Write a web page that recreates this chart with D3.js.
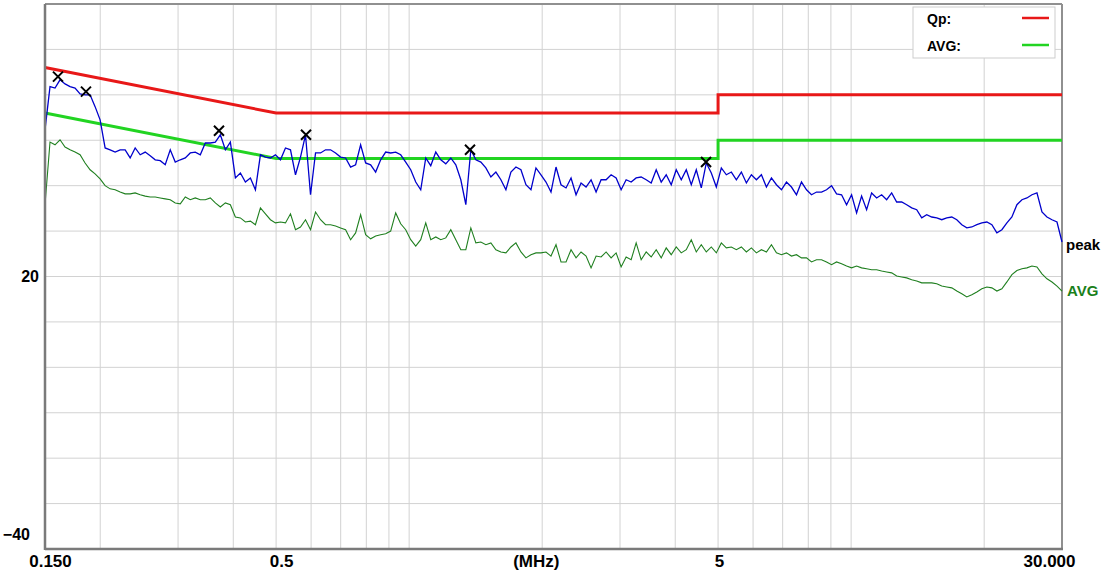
<!DOCTYPE html>
<html>
<head>
<meta charset="utf-8">
<script src="https://cdn.jsdelivr.net/npm/d3@7"></script>
<style>
  html, body { margin: 0; padding: 0; background: #fff; }
  svg text { font-family: "Liberation Sans", Arial, sans-serif; font-weight: bold; }
</style>
</head>
<body>
<svg id="chart" width="1110" height="574"></svg>
<script>
"use strict"

/****** DATA ******/
const fStart = 0.15
const fStop = 30

// peak detector sweep, dBuV, log spaced from fStart to fStop
const peakLevels = [
  52.3, 61.8, 61.5, 63.3, 62.4, 61.8, 61.5, 60.2, 60.0, 60.0,
  57.4, 54.5, 48.3, 47.9, 47.4, 47.9, 47.9, 46.1, 48.3, 46.8,
  47.4, 46.6, 45.7, 45.5, 44.6, 47.9, 45.2, 45.7, 46.1, 47.2,
  47.4, 46.8, 49.4, 49.4, 49.6, 51.2, 47.9, 49.6, 41.7, 42.8,
  40.8, 41.7, 39.1, 46.8, 46.3, 46.1, 46.8, 45.7, 48.3, 47.9,
  42.4, 46.3, 51.2, 38.0, 47.2, 47.2, 47.9, 47.9, 47.2, 46.3,
  46.1, 44.1, 44.6, 49.0, 45.0, 44.6, 43.0, 45.7, 47.4, 47.2,
  47.4, 46.8, 45.2, 43.5, 40.8, 39.1, 46.1, 44.4, 47.4, 45.7,
  44.8, 46.1, 44.6, 41.3, 35.8, 47.9, 45.7, 45.2, 43.9, 41.9,
  43.0, 41.3, 39.1, 43.0, 44.1, 43.5, 40.2, 39.1, 43.9, 42.4,
  40.8, 38.6, 44.1, 40.2, 39.5, 41.7, 38.0, 40.6, 39.7, 41.3,
  38.6, 41.3, 41.3, 42.4, 41.7, 39.1, 41.3, 40.8, 41.7, 41.9,
  41.3, 40.6, 43.5, 40.8, 42.4, 40.2, 43.5, 41.3, 43.5, 40.2,
  43.5, 39.5, 45.0, 42.8, 39.7, 43.9, 42.4, 43.0, 41.3, 43.0,
  40.6, 42.4, 41.3, 42.4, 39.7, 41.7, 40.2, 39.1, 40.8, 39.7,
  38.0, 40.8, 39.1, 38.0, 38.6, 38.6, 39.1, 40.0, 38.2, 38.0,
  35.8, 38.0, 34.0, 37.7, 34.7, 38.4, 37.3, 38.0, 36.9, 38.4,
  36.4, 36.4, 35.8, 35.1, 34.7, 32.9, 33.6, 33.1, 32.9, 32.5,
  32.9, 33.1, 32.5, 31.4, 30.7, 30.9, 31.4, 31.8, 32.0, 31.4,
  29.6, 30.3, 31.8, 33.1, 35.8, 36.9, 37.3, 38.0, 38.4, 34.2,
  33.1, 32.5, 32.0, 27.6
]

// average detector sweep, dBuV, same frequency steps
const avgLevels = [
  35.8, 49.6, 49.0, 50.1, 48.5, 47.9, 47.4, 46.8, 45.0, 43.5,
  42.6, 41.5, 40.0, 39.3, 39.1, 38.6, 38.2, 38.2, 38.4, 38.0,
  37.7, 37.5, 37.5, 37.3, 37.1, 36.9, 36.2, 36.0, 37.5, 36.9,
  37.3, 36.9, 36.9, 37.3, 36.2, 35.3, 36.2, 35.8, 33.1, 32.9,
  32.0, 32.2, 31.4, 35.1, 33.8, 32.5, 31.8, 32.0, 31.8, 33.8,
  30.3, 30.9, 32.5, 30.3, 34.2, 32.5, 31.4, 31.4, 31.1, 30.7,
  30.3, 28.1, 29.6, 33.6, 29.2, 28.3, 28.9, 29.2, 29.4, 30.0,
  34.0, 31.6, 30.3, 28.1, 26.7, 28.1, 31.8, 28.1, 28.7, 28.1,
  28.5, 30.3, 28.1, 25.9, 25.9, 30.7, 27.4, 27.6, 27.0, 27.4,
  25.9, 25.4, 25.2, 26.5, 27.4, 25.4, 24.1, 24.8, 25.2, 25.2,
  25.4, 24.5, 27.0, 23.2, 23.2, 25.9, 24.1, 25.4, 24.5, 21.9,
  24.5, 24.3, 25.4, 24.1, 25.2, 22.1, 24.3, 23.7, 27.4, 23.7,
  25.4, 24.3, 25.9, 24.1, 26.3, 24.8, 26.5, 25.2, 25.9, 28.1,
  25.4, 27.0, 25.4, 26.5, 25.2, 27.4, 26.3, 26.5, 25.9, 26.5,
  25.4, 26.3, 25.2, 25.9, 25.4, 27.0, 25.2, 24.8, 25.2, 24.5,
  24.8, 24.1, 24.1, 23.2, 23.7, 23.7, 23.2, 22.6, 23.2, 22.8,
  22.3, 21.9, 22.3, 21.9, 21.7, 21.5, 21.5, 21.2, 21.0, 20.8,
  20.1, 19.9, 19.7, 19.3, 19.0, 18.6, 18.6, 18.6, 18.4, 17.9,
  17.7, 17.5, 16.8, 16.2, 15.5, 16.0, 16.6, 17.3, 17.7, 17.5,
  16.8, 17.3, 18.8, 20.4, 21.3, 21.7, 21.9, 22.3, 22.1, 20.6,
  19.5, 18.8, 17.9, 16.8
]

const qpLimit = [[0.15, 66], [0.5, 56], [5, 56], [5, 60], [30, 60]]
const avgLimit = [[0.15, 56], [0.5, 46], [5, 46], [5, 50], [30, 50]]

// final measurement points (MHz, dBuV)
const peakMarkers = [[0.1605, 64.0], [0.1857, 60.7], [0.3713, 52.1], [0.5843, 51.2], [1.373, 47.9], [4.696, 45.2]]

const xTicks = [0.15, 0.5, 5, 30]
const xTickLabels = ['0.150', '0.5', '5', '30.000']
const yTicks = [20, -40]
const gridFreqs = [0.2, 0.3, 0.4, 0.5, 0.6, 0.7, 0.8, 0.9, 1, 2, 3, 4, 5, 6, 7, 8, 9, 10, 20]
const gridLevels = [-30, -20, -10, 0, 10, 20, 30, 40, 50, 60, 70]

const legendItems = [
  {label: 'Qp:', color: '#e81818'},
  {label: 'AVG:', color: '#22d422'},
]

/****** CHART ******/
const width = 1110
const height = 574
const margin = {top: 4, right: 48, bottom: 25, left: 45}

const svg = d3.select('#chart')
const x = d3.scaleLog().domain([fStart, fStop]).range([margin.left, width - margin.right])
const y = d3.scaleLinear().domain([-40, 80]).range([height - margin.bottom, margin.top])

const sweep = levels => levels.map((v, i) => [fStart * Math.pow(fStop / fStart, i / (levels.length - 1)), v])
const line = d3.line().x(d => x(d[0])).y(d => y(d[1]))

// grid
svg.append('g').selectAll('line').data(gridFreqs).enter().append('line')
  .attr('x1', d => x(d)).attr('x2', d => x(d))
  .attr('y1', y(80)).attr('y2', y(-40))
  .attr('stroke', '#d2d2d2').attr('stroke-width', 1)
svg.append('g').selectAll('line').data(gridLevels).enter().append('line')
  .attr('x1', x(fStart)).attr('x2', x(fStop))
  .attr('y1', d => y(d)).attr('y2', d => y(d))
  .attr('stroke', '#d2d2d2').attr('stroke-width', 1)

// frame
svg.append('line').attr('x1', x(fStart)).attr('x2', x(fStop)).attr('y1', y(80)).attr('y2', y(80))
  .attr('stroke', '#909090').attr('stroke-width', 2)
svg.append('line').attr('x1', x(fStop)).attr('x2', x(fStop)).attr('y1', y(80)).attr('y2', y(-40))
  .attr('stroke', '#909090').attr('stroke-width', 2)

// limits
svg.append('path').datum(qpLimit).attr('d', line)
  .attr('fill', 'none').attr('stroke', legendItems[0].color).attr('stroke-width', 3)
svg.append('path').datum(avgLimit).attr('d', line)
  .attr('fill', 'none').attr('stroke', legendItems[1].color).attr('stroke-width', 3)

// traces
const avgData = sweep(avgLevels)
const peakData = sweep(peakLevels)
svg.append('path').datum(avgData).attr('d', line)
  .attr('fill', 'none').attr('stroke', '#1f7f1f').attr('stroke-width', 1.1)
svg.append('path').datum(peakData).attr('d', line)
  .attr('fill', 'none').attr('stroke', '#0000cc').attr('stroke-width', 1.3)

// markers
svg.append('g').selectAll('path').data(peakMarkers).enter().append('path')
  .attr('transform', d => `translate(${x(d[0])},${y(d[1])})`)
  .attr('d', 'M-5,-5L5,5M-5,5L5,-5')
  .attr('stroke', '#000').attr('stroke-width', 2)

// left and bottom axis lines
svg.append('line').attr('x1', x(fStart)).attr('x2', x(fStart)).attr('y1', y(80)).attr('y2', y(-40) + 1)
  .attr('stroke', '#7a7a7a').attr('stroke-width', 2.5)
svg.append('line').attr('x1', x(fStart)).attr('x2', x(fStop) + 1).attr('y1', y(-40)).attr('y2', y(-40))
  .attr('stroke', '#7a7a7a').attr('stroke-width', 2.5)

// axes
const xAxis = svg.append('g').attr('transform', `translate(0,${y(-40)})`)
  .call(d3.axisBottom(x).tickValues(xTicks).tickFormat((d, i) => xTickLabels[i]).tickSize(0).tickPadding(6))
xAxis.select('.domain').remove()
xAxis.selectAll('text').attr('font-size', 17).attr('fill', '#000')
  .attr('font-family', '"Liberation Sans", Arial, sans-serif')
  .attr('dx', d => d === 0.15 ? 5 : d === 30 ? -13 : d === 0.5 ? 5 : 1)
xAxis.append('text').attr('x', x(1.94)).attr('y', 6).attr('dy', '0.71em')
  .attr('text-anchor', 'middle').attr('font-size', 17).attr('fill', '#000').text('(MHz)')

const yAxis = svg.append('g').attr('transform', `translate(${x(fStart)},0)`)
  .call(d3.axisLeft(y).tickValues(yTicks).tickSize(0).tickPadding(6))
yAxis.select('.domain').remove()
yAxis.selectAll('text').attr('font-size', 16).attr('fill', '#000')
  .attr('font-family', '"Liberation Sans", Arial, sans-serif')
  .attr('x', d => d === -40 ? -15 : -6)
  .attr('dy', d => d === -40 ? '-0.6em' : '0.3em')

// trace names at right end
svg.append('text').attr('x', x(fStop) + 4).attr('y', y(peakLevels[peakLevels.length - 1]) + 3)
  .attr('dy', '0.35em').attr('font-size', 15).attr('fill', '#000').text('peak')
svg.append('text').attr('x', x(fStop) + 5).attr('y', y(avgLevels[avgLevels.length - 1]))
  .attr('dy', '0.35em').attr('font-size', 15).attr('fill', '#1a801a').text('AVG')

// legend
const legend = svg.append('g').attr('transform', `translate(${x(fStop) - 149},7)`)
legend.append('rect').attr('width', 142).attr('height', 51)
  .attr('fill', '#fff').attr('stroke', '#cdcdcd').attr('stroke-width', 1)
legendItems.forEach((item, i) => {
  const row = legend.append('g').attr('transform', `translate(0,${12 + i * 27})`)
  row.append('text').attr('x', 14).attr('dy', '0.35em').attr('font-size', 14).attr('fill', '#000').text(item.label)
  row.append('line').attr('x1', 109).attr('x2', 136).attr('y1', -1).attr('y2', -1)
    .attr('stroke', item.color).attr('stroke-width', 2.5)
})
</script>
</body>
</html>
